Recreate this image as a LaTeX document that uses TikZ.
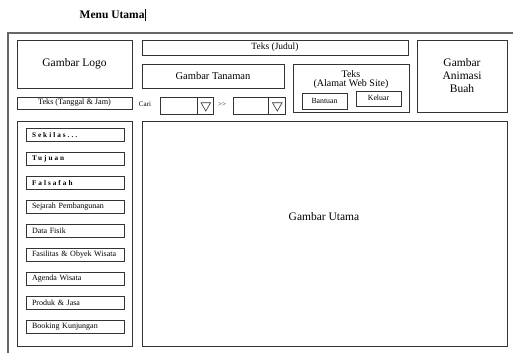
\documentclass[tikz,border=0pt]{standalone}
\usepackage{fontspec}
\setmainfont{Liberation Serif}
\usetikzlibrary{shapes.geometric, positioning}
\definecolor{linegray}{HTML}{333333}
\definecolor{framegray}{HTML}{666666}
\tikzstyle{panel} = [rectangle, draw=linegray, line width=0.8pt, inner sep=0pt, text centered]
\tikzstyle{menubtn} = [rectangle, draw=linegray, line width=0.8pt, minimum height=13pt, inner xsep=6pt, inner ysep=0pt, text width=86pt, align=left, font=\fontsize{8}{9}\selectfont]
\tikzstyle{spaced} = [font=\fontsize{7.2}{8}\selectfont\bfseries\addfontfeature{LetterSpace=28}]
\tikzstyle{field} = [rectangle, draw=linegray, line width=0.8pt, minimum height=17pt, inner sep=0pt]
\tikzstyle{droptri} = [regular polygon, regular polygon sides=3, shape border rotate=180, draw=linegray, line width=0.6pt, minimum size=11pt, inner sep=0pt]
\tikzstyle{bigtext} = [font=\fontsize{11.5}{13}\selectfont]

\begin{document}
\begin{tikzpicture}[x=1pt, y=-1pt, node distance=10.2pt]
\useasboundingbox (0,0) rectangle (513,353);
\node (title) [font=\fontsize{11.5}{12}\selectfont\bfseries] at (112.5,15) {Menu Utama\rule[-2.5pt]{0.7pt}{11.5pt}};

\draw [framegray, line width=1.2pt] (8,353) -- (8,33) -- (513,33);

% header
\node (logo) [panel, bigtext, minimum width=115pt, minimum height=48pt] at (74.5,64) {Gambar Logo};
\node (tanggal) [panel, minimum width=115pt, minimum height=12pt, font=\fontsize{8.2}{9}\selectfont] at (74.5,103) {Teks (Tanggal \& Jam)};
\node (judul) [panel, minimum width=266pt, minimum height=15pt, font=\fontsize{9.5}{10}\selectfont] at (275,47.5) {Teks (Judul)};
\node (tanaman) [panel, minimum width=142pt, minimum height=24pt, font=\fontsize{10.5}{11}\selectfont] at (213,76) {Gambar Tanaman};
\node (alamat) [panel, minimum width=116pt, minimum height=48pt] at (351,88) {};
\node (alamattext) [align=center, font=\fontsize{10}{9.5}\selectfont] at (351,79.5) {Teks\\(Alamat Web Site)};
\node (bantuan) [panel, minimum width=45pt, minimum height=16pt, font=\fontsize{7.8}{8}\selectfont] at (324.5,101) {Bantuan};
\node (keluar) [panel, minimum width=45pt, minimum height=15pt, font=\fontsize{7.8}{8}\selectfont] at (378.5,98.5) {\raisebox{1.5pt}{Keluar}};
\node (animasi) [panel, bigtext, align=center, minimum width=90pt, minimum height=72pt] at (462,76) {Gambar\\Animasi\\Buah};

% pencarian
\node (cari) [font=\fontsize{7}{8}\selectfont] at (145,104) {Cari};
\node (cari1) [field, minimum width=37pt] at (178.5,105.5) {};
\node (cari1btn) [field, minimum width=16pt, anchor=west] at (cari1.east) {};
\node (tri1) [droptri] at (cari1btn) {};
\node (lanjut) [font=\fontsize{7}{8}\selectfont] at (222,104.5) {{>}{>}};
\node (cari2) [field, minimum width=35pt] at (250.5,105.5) {};
\node (cari2btn) [field, minimum width=17pt, anchor=west] at (cari2.east) {};
\node (tri2) [droptri] at (cari2btn) {};

% menu samping
\node (menupanel) [panel, minimum width=115pt, minimum height=225pt] at (74.5,233.5) {};
\node (sekilas) [menubtn, spaced] at (75,135) {Sekilas...};
\node (tujuan) [menubtn, spaced, below=of sekilas] {Tujuan};
\node (falsafah) [menubtn, spaced, below=of tujuan] {Falsafah};
\node (sejarah) [menubtn, below=of falsafah] {Sejarah Pembangunan};
\node (fisik) [menubtn, below=of sejarah] {Data Fisik};
\node (fasilitas) [menubtn, below=of fisik] {Fasilitas \& Obyek Wisata};
\node (agenda) [menubtn, below=of fasilitas] {Agenda Wisata};
\node (produk) [menubtn, below=of agenda] {Produk \& Jasa};
\node (booking) [menubtn, below=of produk] {Booking Kunjungan};

% isi utama
\node (utama) [panel, minimum width=365pt, minimum height=225pt] at (324.5,233.5) {};
\node (utamatext) [bigtext] at (324,217) {Gambar Utama};
\end{tikzpicture}
\end{document}
